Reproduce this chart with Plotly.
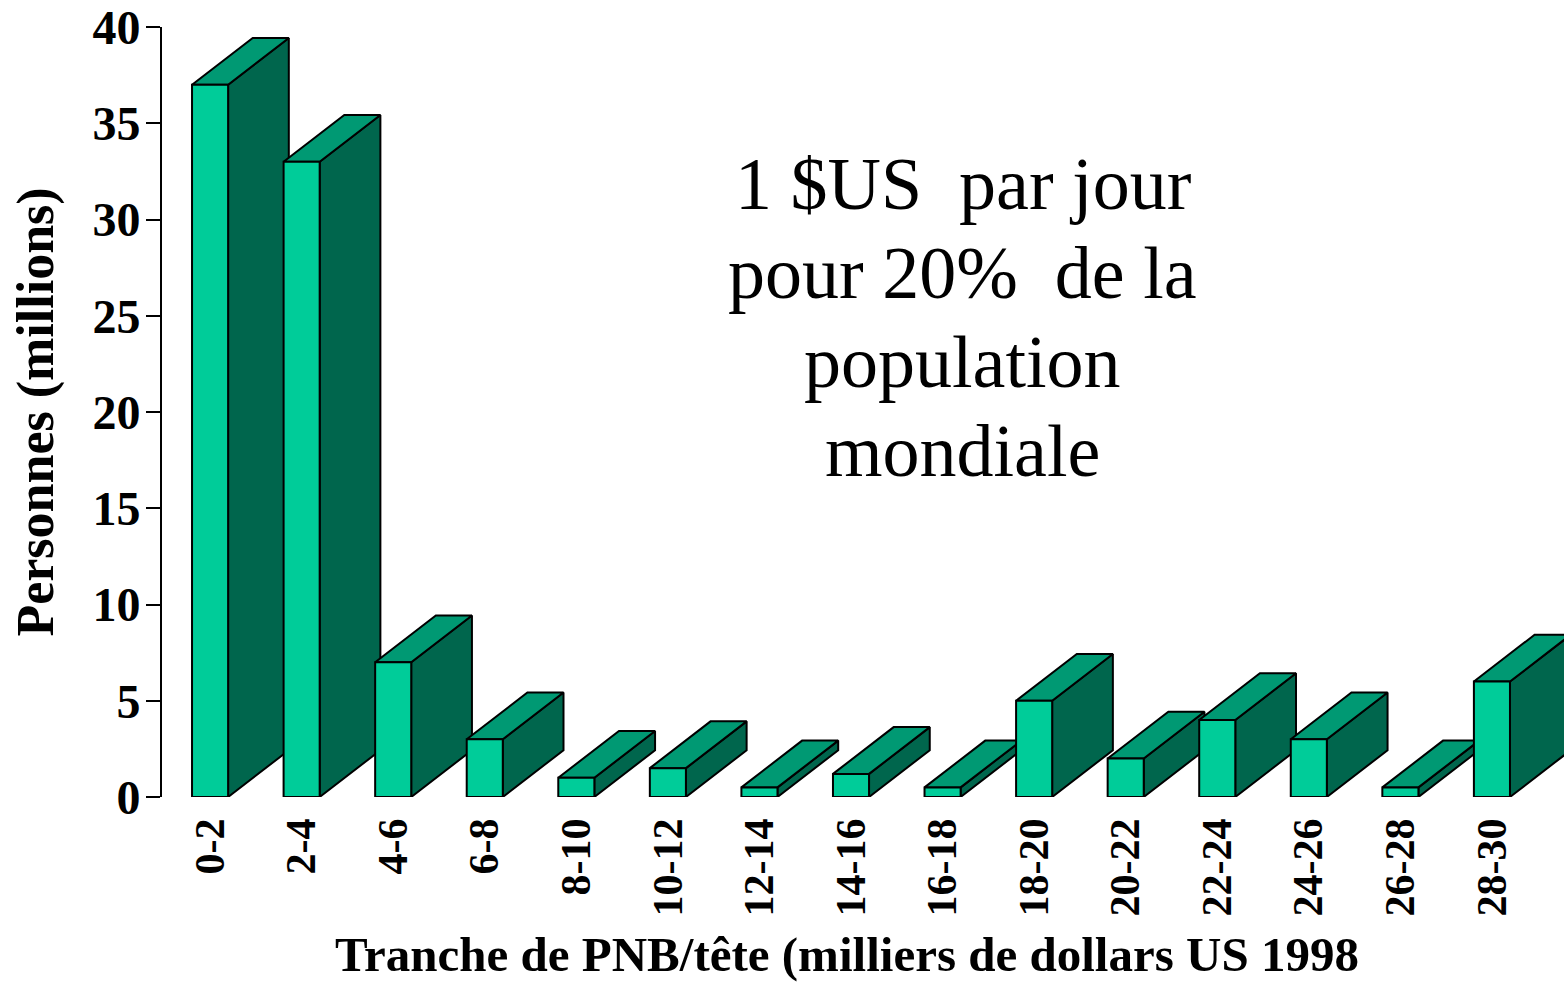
import plotly.graph_objects as go

# ---- data ----
categories = ["0-2", "2-4", "4-6", "6-8", "8-10", "10-12", "12-14", "14-16",
              "16-18", "18-20", "20-22", "22-24", "24-26", "26-28", "28-30"]
persons_millions = [37, 33, 7, 3, 1, 1.5, 0.5, 1.2, 0.5, 5, 2, 4, 3, 0.5, 6]
y_ticks = [0, 5, 10, 15, 20, 25, 30, 35, 40]
note_lines = ["1 $US\u00a0 par jour", "pour 20%\u00a0 de la", "population", "mondiale"]
x_title = "Tranche de PNB/tête (milliers de dollars US 1998"
y_title = "Personnes (millions)"

# ---- style ----
FRONT = "#00CC99"
TOP = "#009973"
SIDE = "#00664D"
HALF_W = 0.197      # half width of the front face (category units)
DEPTH_X = 0.663     # 3D depth offset (category units)
DEPTH_Y = 2.43      # 3D depth offset (value units)
SERIF = "Liberation Serif"

xs = list(range(len(categories)))

front_x, front_y, side_x, side_y, top_x, top_y = [], [], [], [], [], []
for i, v in zip(xs, persons_millions):
    l, r = i - HALF_W, i + HALF_W
    front_x += [l, r, r, l, l, None]
    front_y += [0, 0, v, v, 0, None]
    side_x += [r, r + DEPTH_X, r + DEPTH_X, r, r, None]
    side_y += [0, DEPTH_Y, v + DEPTH_Y, v, 0, None]
    top_x += [l, r, r + DEPTH_X, l + DEPTH_X, l, None]
    top_y += [v, v, v + DEPTH_Y, v + DEPTH_Y, v, None]

fig = go.Figure()
line = dict(color="black", width=2)
fig.add_trace(go.Scatter(x=side_x, y=side_y, mode="lines", fill="toself",
                         fillcolor=SIDE, line=line, hoverinfo="skip"))
fig.add_trace(go.Scatter(x=top_x, y=top_y, mode="lines", fill="toself",
                         fillcolor=TOP, line=line, hoverinfo="skip"))
fig.add_trace(go.Scatter(x=front_x, y=front_y, mode="lines", fill="toself",
                         fillcolor=FRONT, line=line, hoverinfo="skip"))

note_y = [0.796, 0.6805, 0.565, 0.449]
for txt, yy in zip(note_lines, note_y):
    fig.add_annotation(
        text=txt, xref="paper", yref="paper", x=0.5713, y=yy,
        xanchor="center", yanchor="middle", showarrow=False,
        font=dict(family=SERIF, size=74, color="black"),
    )

fig.add_annotation(
    text=x_title, xref="paper", yref="paper", x=0.4886, y=-0.2045,
    xanchor="center", yanchor="middle", showarrow=False,
    font=dict(family=SERIF, size=49, color="black", weight="bold"),
)

fig.update_layout(
    width=1564, height=986,
    margin=dict(l=162, r=0, t=27, b=189, autoexpand=False),
    paper_bgcolor="white", plot_bgcolor="white",
    showlegend=False,
    xaxis=dict(
        range=[-0.525, 14.787], automargin=False,
        tickmode="array", tickvals=xs, ticktext=categories,
        tickangle=-90, ticks="", ticklabelstandoff=12,
        tickfont=dict(family=SERIF, size=42, color="black", weight="bold"),
        showline=False, showgrid=False, zeroline=False,
    ),
    yaxis=dict(
        range=[0, 40], automargin=False,
        tickmode="array", tickvals=y_ticks,
        ticks="outside", ticklen=14, tickwidth=2, tickcolor="black",
        ticklabelstandoff=-4, ticklabeloverflow="allow",
        showline=True, linecolor="black", linewidth=2,
        tickfont=dict(family=SERIF, size=48, color="black", weight="bold"),
        showgrid=False, zeroline=False,
        title=dict(text=y_title,
                   font=dict(family=SERIF, size=52, color="black", weight="bold"),
                   standoff=22),
    ),
)

fig.write_html("out.html", config={"displayModeBar": False},
               post_script="document.body.style.margin='0';")
